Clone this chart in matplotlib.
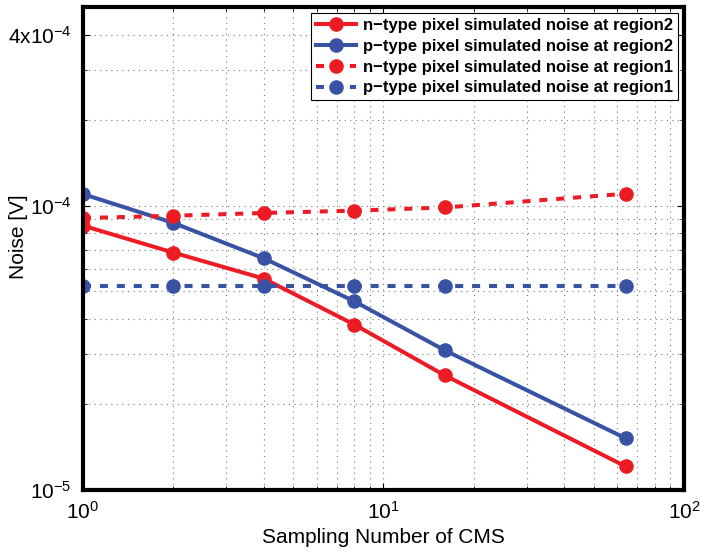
import matplotlib
matplotlib.use('Agg')
import matplotlib.pyplot as plt

# sampling numbers of CMS
samples = [1, 2, 4, 8, 16, 64]
n_region2 = [0.851e-4, 0.684e-4, 0.554e-4, 0.382e-4, 0.253e-4, 0.121e-4]
p_region2 = [1.099e-4, 0.870e-4, 0.653e-4, 0.461e-4, 0.310e-4, 0.152e-4]
n_region1 = [0.905e-4, 0.922e-4, 0.943e-4, 0.961e-4, 0.986e-4, 1.102e-4]
p_region1 = [0.523e-4, 0.523e-4, 0.523e-4, 0.523e-4, 0.523e-4, 0.523e-4]
ytick_vals = [1e-5, 1e-4, 4e-4]
ytick_labels = [r'$10^{-5}$', r'$10^{-4}$', r'$4\mathrm{x}10^{-4}$']

plt.rcParams['font.family'] = ['Liberation Sans', 'DejaVu Sans']
plt.rcParams['mathtext.fontset'] = 'custom'
plt.rcParams['mathtext.rm'] = 'Liberation Sans'
plt.rcParams['mathtext.it'] = 'Liberation Sans'

red = '#ED1C24'
blue = '#3953A4'

fig = plt.figure(figsize=(7.01, 5.53), dpi=100)
ax = fig.add_axes([0.1184, 0.1139, 0.8573, 0.8734])

ax.plot(samples, n_region2, 'o-', color=red, lw=2.9, ms=9.5, label='n\u2212type pixel simulated noise at region2')
ax.plot(samples, p_region2, 'o-', color=blue, lw=2.9, ms=9.5, label='p\u2212type pixel simulated noise at region2')
ax.plot(samples, n_region1, 'o--', color=red, lw=2.9, ms=9.5, dashes=(2.0, 2.2), label='n\u2212type pixel simulated noise at region1')
ax.plot(samples, p_region1, 'o--', color=blue, lw=2.9, ms=9.5, dashes=(2.0, 2.2), label='p\u2212type pixel simulated noise at region1')

ax.set_xscale('log')
ax.set_yscale('log')
ax.set_xlim(1, 100)
ax.set_ylim(1e-5, 5e-4)
ax.set_yticks(ytick_vals)
ax.set_yticklabels(ytick_labels)
ax.set_xticks([1, 10, 100])
ax.set_xticklabels([r'$10^{0}$', r'$10^{1}$', r'$10^{2}$'])

ax.grid(True, which='both', linestyle=(0, (1, 4)), color='#777777', linewidth=0.8)
ax.tick_params(which='both', direction='in', top=True, right=True, labelsize=15)
ax.tick_params(which='major', length=5, width=0.8, pad=8)
ax.tick_params(which='minor', length=3, width=0.6)
for s in ax.spines.values():
    s.set_linewidth(3)

ax.set_xlabel('Sampling Number of CMS', fontsize=15)
ax.xaxis.set_label_coords(0.5, -0.078)
ax.set_ylabel('Noise [V]', fontsize=15, va='center')
ax.yaxis.set_label_coords(-0.108, 0.524)

leg = ax.legend(loc='upper right', prop={'weight': 'bold', 'size': 12}, fancybox=False,
                framealpha=1, edgecolor='black', borderpad=0.3, labelspacing=0.35,
                handlelength=2.4, handletextpad=0.4, borderaxespad=0.35)
leg.get_frame().set_linewidth(0.8)

fig.savefig('out.png', dpi=100)
